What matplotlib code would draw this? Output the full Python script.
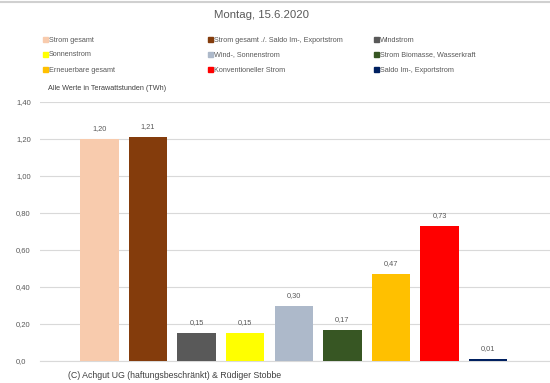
import matplotlib
matplotlib.use("Agg")
import matplotlib.pyplot as plt
from matplotlib.patches import Rectangle
from matplotlib.lines import Line2D

categories = ["Strom gesamt", "Strom gesamt ./. Saldo Im-, Exportstrom", "Windstrom",
              "Sonnenstrom", "Wind-, Sonnenstrom", "Strom Biomasse, Wasserkraft",
              "Erneuerbare gesamt", "Konventioneller Strom", "Saldo Im-, Exportstrom"]
values = [1.20, 1.21, 0.15, 0.15, 0.30, 0.17, 0.47, 0.73, 0.01]
colors = ["#F8CBAD", "#843C0C", "#595959", "#FFFF00", "#ADB9CA", "#375623",
          "#FFC000", "#FF0000", "#002060"]
yticks = [0.0, 0.2, 0.4, 0.6, 0.8, 1.0, 1.2, 1.4]
yticklabels = ["0,0", "0,20", "0,40", "0,60", "0,80", "1,00", "1,20", "1,40"]
title = "Montag, 15.6.2020"
subtitle = "Alle Werte in Terawattstunden (TWh)"
credit = "(C) Achgut UG (haftungsbeschränkt) & Rüdiger Stobbe"

plt.rcParams['font.family'] = ['Liberation Sans', 'DejaVu Sans']
txt = "#595959"
W, H = 550, 383
fig = plt.figure(figsize=(5.5, 3.83), dpi=100)
ax = fig.add_axes([40 / W, (H - 361) / H, 1 - 40 / W, (361 - 102) / H])
x = list(range(len(values)))
ax.bar(x, values, width=0.79, color=colors, zorder=3)
for xi, v in zip(x, values):
    ax.annotate(f"{v:.2f}".replace(".", ","), (xi, v), xytext=(0, 5),
                textcoords="offset points", ha="center", va="bottom",
                fontsize=5.3, color=txt)
ax.set_xlim(-1.22, 9.27)
ax.set_ylim(0, 1.4)
ax.set_yticks(yticks)
ax.set_yticklabels(yticklabels, fontsize=5.5, color=txt)
ax.tick_params(axis="y", length=0, pad=17.3)
for lab in ax.get_yticklabels():
    lab.set_horizontalalignment("left")
ax.set_xticks([])
ax.grid(axis="y", color="#D9D9D9", linewidth=0.8, zorder=0)
for s in ["top", "right", "left"]:
    ax.spines[s].set_visible(False)
ax.spines["bottom"].set_color("#D9D9D9")
ax.spines["bottom"].set_linewidth(0.8)

fig.text(262 / W, 1 - 15 / H, title, ha="center", va="center", fontsize=8.2, color=txt)
fig.text(48 / W, 1 - 89 / H, subtitle, ha="left", va="center", fontsize=5.2, color="#404040")
fig.text(68 / W, 1 - 375 / H, credit, ha="left", va="center", fontsize=6.3, color="#404040")

col_x = [43, 208, 374]
row_y = [39, 54, 69]
for i, (c, lab) in enumerate(zip(colors, categories)):
    cx = col_x[i % 3]
    ry = row_y[i // 3]
    fig.patches.append(Rectangle((cx / W, 1 - (ry + 2.5) / H), 5 / W, 5 / H,
                                 transform=fig.transFigure, color=c, figure=fig))
    fig.text((cx + 6) / W, 1 - (ry + 1) / H, lab, ha="left", va="center", fontsize=5.2, color=txt)

fig.add_artist(Line2D([0, 1], [1 - 2 / H, 1 - 2 / H], transform=fig.transFigure,
                      color="#D0D0D0", linewidth=1.5))
fig.savefig("out.png", dpi=100)
